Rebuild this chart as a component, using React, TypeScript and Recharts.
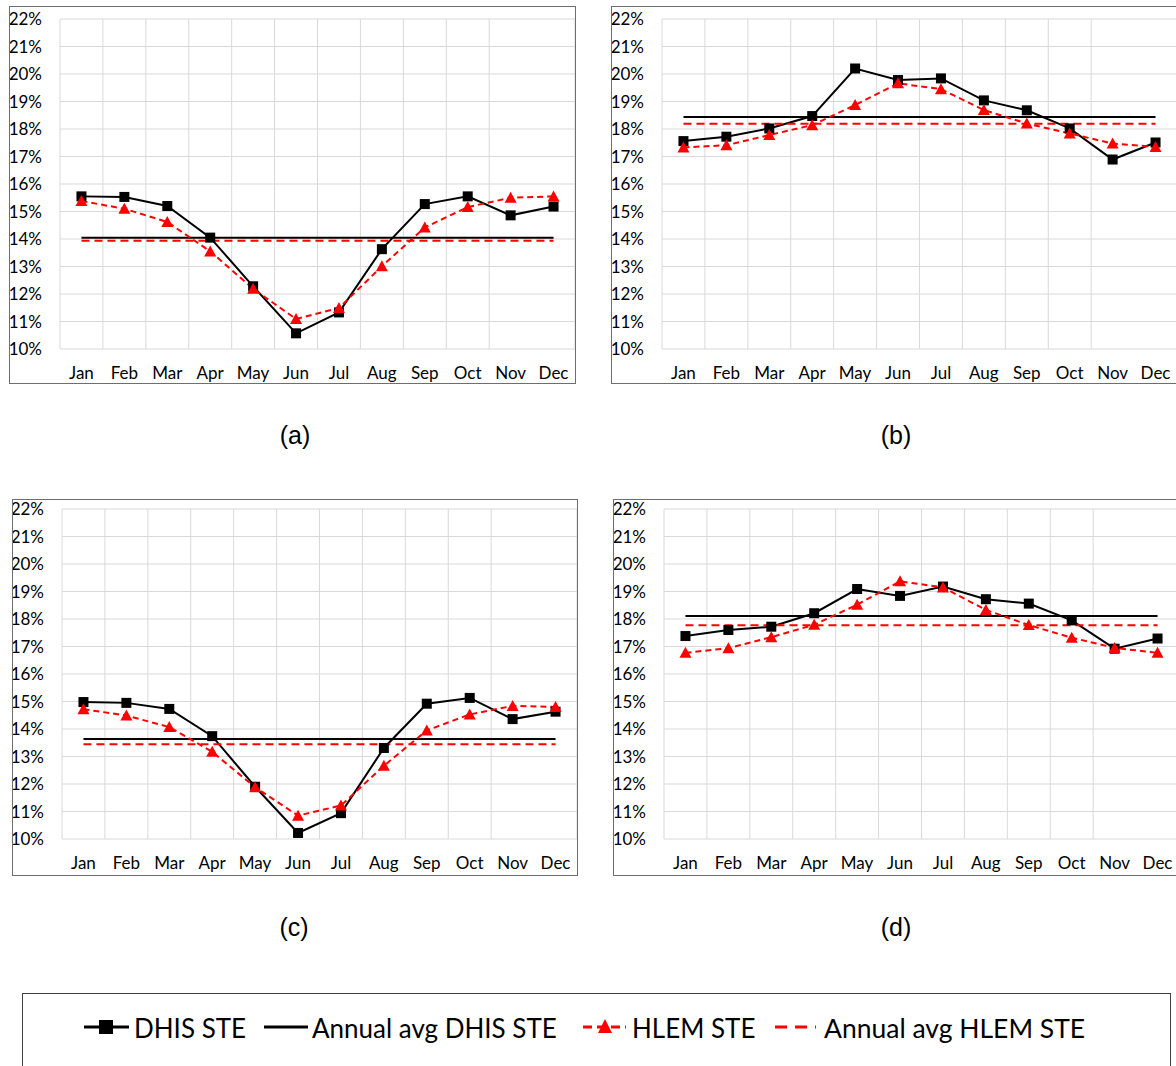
import React from 'react';
import { LineChart, Line, XAxis, YAxis, CartesianGrid } from 'recharts';

const months = ['Jan', 'Feb', 'Mar', 'Apr', 'May', 'Jun', 'Jul', 'Aug', 'Sep', 'Oct', 'Nov', 'Dec'];
const monthTicks = [1, 2, 3, 4, 5, 6, 7, 8, 9, 10, 11, 12];
const gridTicks = [0.5, 1.5, 2.5, 3.5, 4.5, 5.5, 6.5, 7.5, 8.5, 9.5, 10.5, 11.5, 12.5];
const yTicks = [10, 11, 12, 13, 14, 15, 16, 17, 18, 19, 20, 21, 22];

const seriesNames = ['DHIS STE', 'Annual avg DHIS STE', 'HLEM STE', 'Annual avg HLEM STE'];
const panelLabels = ['(a)', '(b)', '(c)', '(d)'];

// Panel (a)
const dhisA = [15.55, 15.53, 15.2, 14.05, 12.28, 10.57, 11.33, 13.63, 15.27, 15.55, 14.86, 15.18];
const hlemA = [15.38, 15.1, 14.62, 13.55, 12.19, 11.09, 11.49, 13.01, 14.42, 15.16, 15.5, 15.55];
const avgDhisA = 14.05;
const avgHlemA = 13.94;

// Panel (b)
const dhisB = [17.56, 17.72, 18.02, 18.47, 20.2, 19.78, 19.84, 19.04, 18.68, 18.02, 16.89, 17.51];
const hlemB = [17.33, 17.41, 17.78, 18.14, 18.87, 19.66, 19.45, 18.69, 18.2, 17.84, 17.47, 17.35];
const avgDhisB = 18.44;
const avgHlemB = 18.19;

// Panel (c)
const dhisC = [14.98, 14.95, 14.73, 13.74, 11.9, 10.22, 10.94, 13.31, 14.92, 15.13, 14.36, 14.63];
const hlemC = [14.72, 14.49, 14.07, 13.17, 11.88, 10.85, 11.22, 12.66, 13.95, 14.53, 14.84, 14.8];
const avgDhisC = 13.64;
const avgHlemC = 13.45;

// Panel (d)
const dhisD = [17.38, 17.6, 17.72, 18.21, 19.09, 18.84, 19.18, 18.72, 18.56, 17.95, 16.92, 17.29];
const hlemD = [16.77, 16.94, 17.34, 17.79, 18.52, 19.37, 19.15, 18.33, 17.78, 17.32, 16.95, 16.77];
const avgDhisD = 18.11;
const avgHlemD = 17.77;

type Rect = { left: number; top: number; right: number; bottom: number };

function buildRows(dhis: number[], hlem: number[], avgD: number, avgH: number) {
  return months.map((m, i) => ({ idx: i + 1, month: m, dhis: dhis[i], hlem: hlem[i], avgD, avgH }));
}

const FONT = 'Lato, "Open Sans", sans-serif';

const renderSquare = (p: any) => {
  if (p.cx == null || p.cy == null) return <g key={`s${p.index}`} />;
  return <rect key={`s${p.index}`} x={p.cx - 5} y={p.cy - 5} width={10} height={10} fill="#000" />;
};

const renderTriangle = (p: any) => {
  if (p.cx == null || p.cy == null) return <g key={`t${p.index}`} />;
  const { cx, cy } = p;
  return <path key={`t${p.index}`} d={`M${cx},${cy - 6} L${cx + 6},${cy + 5} L${cx - 6},${cy + 5} Z`} fill="#ff0000" />;
};

function Panel({ box, plot, rows }: { box: Rect; plot: Rect; rows: any[] }) {
  const w = box.right - box.left;
  const h = box.bottom - box.top;
  return (
    <>
      <div style={{ position: 'absolute', left: box.left, top: box.top }}>
        <LineChart
          width={w}
          height={h}
          data={rows}
          margin={{ top: plot.top - box.top, right: box.right - plot.right, left: 0, bottom: 0 }}
        >
          <CartesianGrid stroke="#d9d9d9" strokeWidth={1} xAxisId="g" />
          <XAxis xAxisId="g" type="number" dataKey="idx" domain={[0.5, 12.5]} ticks={gridTicks} hide />
          <XAxis
            type="number"
            dataKey="idx"
            domain={[0.5, 12.5]}
            ticks={monthTicks}
            interval={0}
            tickFormatter={(v: number) => months[v - 1]}
            tickLine={false}
            axisLine={false}
            tickMargin={12}
            height={box.bottom - plot.bottom}
            tick={{ fill: '#000', fontSize: 17, fontFamily: FONT }}
          />
          <YAxis
            type="number"
            domain={[10, 22]}
            ticks={yTicks}
            interval={0}
            tickFormatter={(v: number) => `${v}%`}
            tickLine={false}
            axisLine={false}
            tickMargin={12}
            width={plot.left - box.left}
            tick={{ fill: '#000', fontSize: 17, fontFamily: FONT }}
          />
          <Line dataKey="dhis" name={seriesNames[0]} stroke="#000" strokeWidth={2} dot={renderSquare} activeDot={false} isAnimationActive={false} />
          <Line dataKey="avgD" name={seriesNames[1]} stroke="#000" strokeWidth={2} dot={false} activeDot={false} isAnimationActive={false} />
          <Line dataKey="hlem" name={seriesNames[2]} stroke="#ff0000" strokeWidth={2} strokeDasharray="6 4" dot={renderTriangle} activeDot={false} isAnimationActive={false} />
          <Line dataKey="avgH" name={seriesNames[3]} stroke="#ff0000" strokeWidth={2} strokeDasharray="8 5" dot={false} activeDot={false} isAnimationActive={false} />
        </LineChart>
      </div>
      <div
        style={{
          position: 'absolute',
          left: box.left,
          top: box.top,
          width: w,
          height: h + 1,
          border: '1px solid #6e6e6e',
          boxSizing: 'border-box',
          pointerEvents: 'none',
        }}
      />
    </>
  );
}

const panels = [
  { box: { left: 9, top: 6, right: 576, bottom: 383 }, plot: { left: 60, top: 19, right: 575, bottom: 349 }, rows: buildRows(dhisA, hlemA, avgDhisA, avgHlemA), cap: { x: 295, y: 435 } },
  { box: { left: 611, top: 6, right: 1178, bottom: 383 }, plot: { left: 662, top: 19, right: 1177, bottom: 349 }, rows: buildRows(dhisB, hlemB, avgDhisB, avgHlemB), cap: { x: 896, y: 435 } },
  { box: { left: 12, top: 499, right: 578, bottom: 875 }, plot: { left: 62, top: 509, right: 577, bottom: 839 }, rows: buildRows(dhisC, hlemC, avgDhisC, avgHlemC), cap: { x: 294, y: 927 } },
  { box: { left: 613, top: 499, right: 1180, bottom: 875 }, plot: { left: 664, top: 509, right: 1179, bottom: 839 }, rows: buildRows(dhisD, hlemD, avgDhisD, avgHlemD), cap: { x: 896, y: 927 } },
];

function Legend() {
  const top = 993;
  const cy = 1027 - top;
  const fs = 26;
  const txt = { fontFamily: FONT, fontSize: fs, fill: '#000' } as const;
  return (
    <div style={{ position: 'absolute', left: 22, top, width: 1149, height: 100, border: '1px solid #404040', boxSizing: 'border-box' }}>
      <svg width={1149} height={100} style={{ position: 'absolute', left: -1, top: -1 }}>
        {/* DHIS STE */}
        <line x1={62} y1={cy} x2={107} y2={cy} stroke="#000" strokeWidth={3} />
        <rect x={77} y={cy - 7} width={14} height={14} fill="#000" />
        <text x={112} y={cy + 1} dominantBaseline="central" style={txt}>{seriesNames[0]}</text>
        {/* Annual avg DHIS */}
        <line x1={242} y1={cy} x2={286} y2={cy} stroke="#000" strokeWidth={3} />
        <text x={290} y={cy + 1} dominantBaseline="central" style={txt}>{seriesNames[1]}</text>
        {/* HLEM */}
        <line x1={561} y1={cy} x2={604} y2={cy} stroke="#ff0000" strokeWidth={3} strokeDasharray="9 5" />
        <path d={`M583,${cy - 8} L590,${cy + 6} L576,${cy + 6} Z`} fill="#ff0000" />
        <text x={610} y={cy + 1} dominantBaseline="central" style={txt}>{seriesNames[2]}</text>
        {/* Annual avg HLEM */}
        <line x1={753} y1={cy} x2={794} y2={cy} stroke="#ff0000" strokeWidth={3} strokeDasharray="12 8" />
        <text x={802} y={cy + 1} dominantBaseline="central" style={{ ...txt, fontSize: 26.5 }}>{seriesNames[3]}</text>
      </svg>
    </div>
  );
}

export default function App() {
  return (
    <div style={{ position: 'absolute', left: 0, top: 0, width: 1176, height: 1066, overflow: 'hidden', background: '#fff' }}>
      {panels.map((p, i) => (
        <React.Fragment key={i}>
          <Panel box={p.box} plot={p.plot} rows={p.rows} />
          <div
            style={{
              position: 'absolute',
              left: p.cap.x - 50,
              top: p.cap.y - 16,
              width: 100,
              height: 32,
              textAlign: 'center',
              lineHeight: '32px',
              fontFamily: '"Liberation Sans", Arial, sans-serif',
              fontSize: 25,
              color: '#000',
            }}
          >
            {panelLabels[i]}
          </div>
        </React.Fragment>
      ))}
      <Legend />
    </div>
  );
}
